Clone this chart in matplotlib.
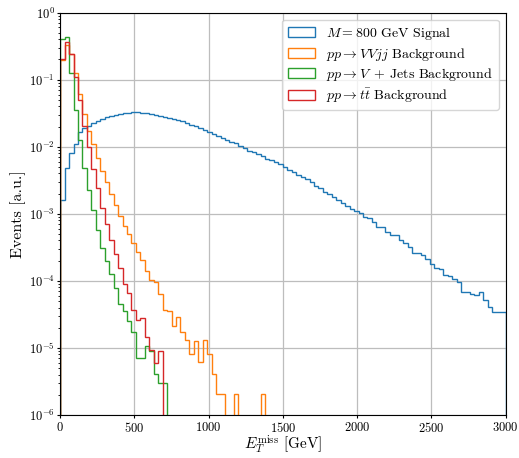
import numpy as np
import matplotlib
matplotlib.use('Agg')
import matplotlib.pyplot as plt

# ─────────────────────────────────────────────
# 1. DADOS (eventos normalizados por bin de 30 GeV)
# ─────────────────────────────────────────────
bin_edges = np.linspace(0, 3000, 101)

signal = [1.62e-3, 4.79e-3, 8.04e-3, 1.10e-2, 1.66e-2, 1.91e-2, 2.04e-2, 2.24e-2, 2.43e-2, 2.63e-2,
          2.79e-2, 2.92e-2, 3.02e-2, 3.09e-2, 3.16e-2, 3.20e-2, 3.24e-2, 3.24e-2, 3.20e-2, 3.16e-2,
          3.05e-2, 3.02e-2, 2.88e-2, 2.79e-2, 2.72e-2, 2.63e-2, 2.51e-2, 2.43e-2, 2.25e-2, 2.12e-2,
          2.01e-2, 1.90e-2, 1.77e-2, 1.67e-2, 1.55e-2, 1.46e-2, 1.35e-2, 1.27e-2, 1.19e-2, 1.12e-2,
          1.04e-2, 9.59e-3, 8.77e-3, 8.28e-3, 7.82e-3, 7.23e-3, 6.61e-3, 6.38e-3, 5.96e-3, 5.57e-3,
          4.97e-3, 4.44e-3, 4.19e-3, 3.83e-3, 3.53e-3, 3.27e-3, 2.99e-3, 2.60e-3, 2.43e-3, 2.12e-3,
          1.96e-3, 1.75e-3, 1.60e-3, 1.46e-3, 1.32e-3, 1.17e-3, 1.11e-3, 1.01e-3, 9.06e-4, 8.55e-4,
          7.46e-4, 6.30e-4, 6.30e-4, 5.43e-4, 4.90e-4, 4.79e-4, 4.07e-4, 3.63e-4, 3.16e-4, 2.57e-4,
          2.63e-4, 2.40e-4, 2.14e-4, 1.78e-4, 1.55e-4, 1.51e-4, 1.23e-4, 1.20e-4, 1.07e-4, 9.77e-5,
          6.76e-5, 6.76e-5, 6.31e-5, 6.17e-5, 6.92e-5, 5.25e-5, 4.07e-5, 3.39e-5, 3.47e-5, 3.47e-5]

vvjj = [0.195, 0.331, 0.243, 0.126, 6.04e-2, 3.09e-2, 1.74e-2, 1.08e-2, 6.76e-3, 4.37e-3,
        2.95e-3, 1.96e-3, 1.35e-3, 9.38e-4, 6.46e-4, 4.95e-4, 3.65e-4, 2.69e-4, 2.07e-4, 1.39e-4,
        1.04e-4, 9.66e-5, 6.28e-5, 3.64e-5, 3.56e-5, 2.14e-5, 2.84e-5, 1.70e-5, 1.31e-5, 8.13e-6,
        1.28e-5, 6.12e-6, 1.31e-5, 8.13e-6, 4.11e-6, 2.04e-6, 2.04e-6, 0, 0, 2.04e-6,
        0, 0, 0, 0, 0, 2.04e-6] + [0] * 54

vjets = [0.407, 0.426, 0.127, 3.50e-2, 1.26e-2, 4.79e-3, 2.24e-3, 1.12e-3, 5.74e-4, 3.08e-4,
         1.95e-4, 1.26e-4, 7.94e-5, 4.47e-5, 3.56e-5, 2.51e-5, 1.70e-5, 7.08e-6, 7.08e-6, 1.07e-5,
         8.91e-6, 4.07e-6, 3.02e-6, 3.02e-6] + [0] * 76

ttbar = [0.204, 0.367, 0.240, 0.110, 4.95e-2, 2.07e-2, 9.77e-3, 4.70e-3, 2.40e-3, 1.23e-3,
         6.92e-4, 4.08e-4, 2.48e-4, 1.53e-4, 8.91e-5, 6.53e-5, 3.64e-5, 2.59e-5, 2.75e-5, 1.45e-5,
         9.23e-6, 6.05e-6, 9.12e-6] + [0] * 77

labels = [r'$M = 800$ GeV Signal',
          r'$pp \to VVjj$ Background',
          r'$pp \to V\,$ + Jets Background',
          r'$pp \to t\bar{t}$ Background']
series = [signal, vvjj, vjets, ttbar]
colors = ['tab:blue', 'tab:orange', 'tab:green', 'tab:red']

# ─────────────────────────────────────────────
# 2. ESTILO
# ─────────────────────────────────────────────
plt.rcParams['font.family'] = 'serif'
plt.rcParams['font.serif'] = ['cmr10', 'DejaVu Serif']
plt.rcParams['mathtext.fontset'] = 'cm'
plt.rcParams['axes.formatter.use_mathtext'] = True

fig = plt.figure(figsize=(5.19, 4.58), dpi=100)
ax = fig.add_axes([0.116, 0.094, 0.858, 0.8785])

centers = 0.5 * (bin_edges[:-1] + bin_edges[1:])
for vals, lab, col in zip(series, labels, colors):
    ax.hist(centers, bins=bin_edges, weights=vals, histtype='step',
            log=True, color=col, label=lab, linewidth=1.0)

ax.set_xlim(0, 3000)
ax.set_ylim(1e-6, 1)
ax.set_xticks(np.arange(0, 3001, 500))
ax.tick_params(which='major', labelsize=9, length=2.5, pad=1.5)
ax.tick_params(which='minor', length=1.5)
ax.grid(True, which='major', color='#bdbdbd', linewidth=0.9)
ax.set_axisbelow(True)

ax.set_xlabel(r'$E_T^{\rm miss}$ [GeV]', fontsize=11, labelpad=-1)
ax.set_ylabel('Events [a.u.]', fontsize=11.5, labelpad=2)

ax.legend(loc='upper right', fontsize=10, labelspacing=0.25)

plt.savefig('out.png', dpi=100)
plt.close()
